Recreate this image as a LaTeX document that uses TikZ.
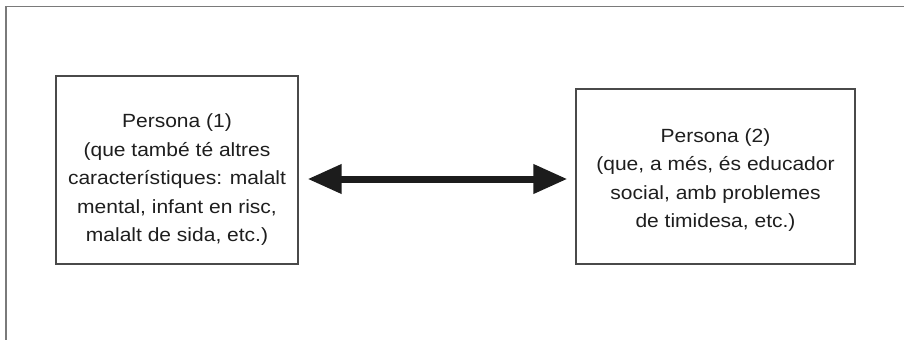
\documentclass[tikz,border=0pt]{standalone}
\usepackage{fontspec}
\setmainfont{Liberation Sans}
\newfontfamily\boxfont[FakeStretch=1.1]{Liberation Sans}
\usetikzlibrary{arrows.meta}
\definecolor{framegray}{HTML}{7A7A7A}
\definecolor{boxgray}{HTML}{4A4A4A}
\definecolor{inkdark}{HTML}{1E1E1E}
\definecolor{arrowink}{HTML}{1C1C1C}
\begin{document}
\begin{tikzpicture}[x=1pt,y=-1pt,
  personbox/.style={draw=boxgray, line width=1.3pt, fill=white, inner sep=0pt},
  persontext/.style={text=inkdark, align=center, inner sep=0pt,
    font=\boxfont\fontsize{19.1}{28.5}\selectfont},
  linkarrow/.style={draw=arrowink, line width=7pt,
    {Triangle[length=34pt,width=28pt]}-{Triangle[length=34pt,width=28pt]}}]
  \useasboundingbox (0,0) rectangle (904,340);
  % page frame (top and left rules)
  \draw[framegray, line width=1.4pt] (904,6.5) -- (5.8,6.5) -- (5.8,340);
  % the two persons
  \node[personbox, minimum width=242pt, minimum height=188pt] (p1) at (177,170) {};
  \node[persontext] (p1text) at ([yshift=-9.6pt]p1.center)
    {Persona (1)\\(que també té altres\\característiques: malalt\\mental, infant en risc,\\malalt de sida, etc.)};
  \node[personbox, minimum width=279pt, minimum height=175pt] (p2) at (715.5,176.5) {};
  \node[persontext] (p2text) at ([yshift=-3.6pt]p2.center)
    {Persona (2)\\(que, a més, és educador\\social, amb problemes\\de timidesa, etc.)};
  % relation between them
  \draw[linkarrow] ([xshift=9pt]p1.east |- 0,179) -- ([xshift=-8pt]p2.west |- 0,179);
\end{tikzpicture}
\end{document}
